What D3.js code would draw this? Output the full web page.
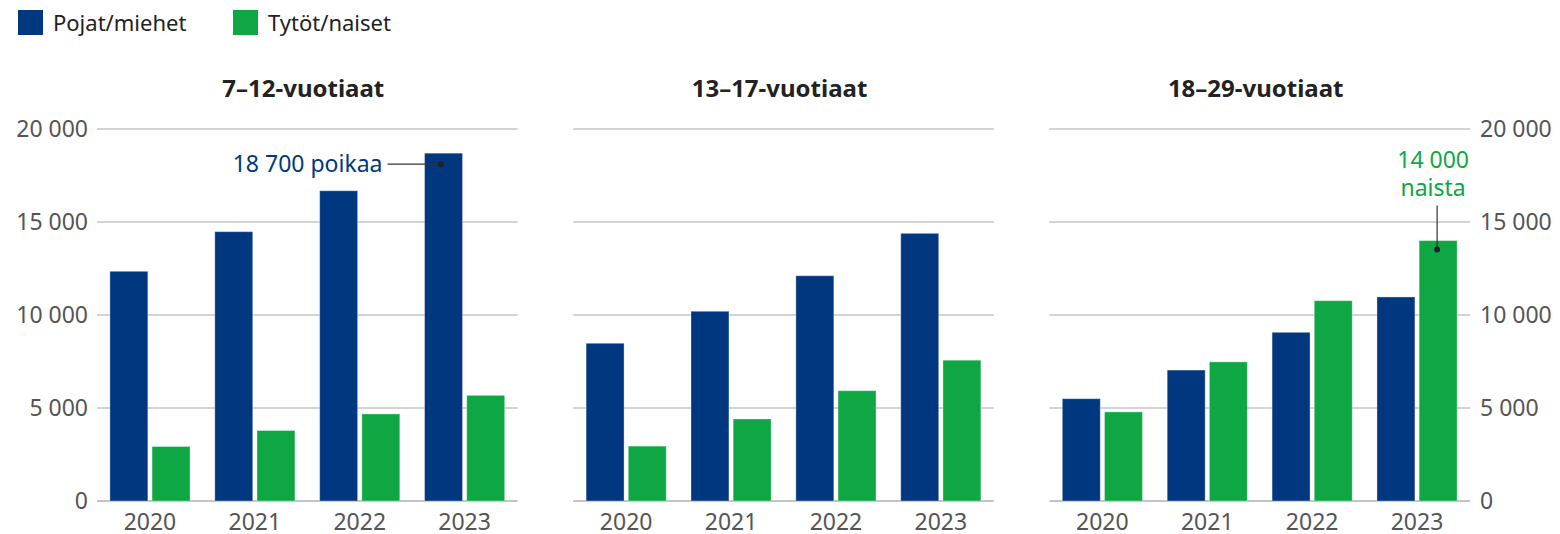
<!DOCTYPE html>
<html><head><meta charset="utf-8">
<script src="https://cdn.jsdelivr.net/npm/d3@7"></script>
<style>
html,body{margin:0;padding:0;background:#fff;}
svg{display:block;font-family:"Noto Sans",sans-serif;}
</style></head>
<body>
<svg id="c" width="1560" height="534"></svg>
<script>
const years = ["2020","2021","2022","2023"];
const groups = ["7–12-vuotiaat","13–17-vuotiaat","18–29-vuotiaat"];
const seriesNames = ["Pojat/miehet","Tytöt/naiset"];
const boys7_12  = [12350, 14480, 16680, 18700];
const girls7_12 = [2930, 3790, 4680, 5680];
const boys13_17  = [8480, 10200, 12110, 14390];
const girls13_17 = [2950, 4410, 5930, 7570];
const boys18_29  = [5500, 7040, 9070, 10970];
const girls18_29 = [4790, 7480, 10770, 14000];
const yTicks = [0, 5000, 10000, 15000, 20000];

const colors = ["#00377f", "#0ea744"];
const panelData = [
  [boys7_12, girls7_12],
  [boys13_17, girls13_17],
  [boys18_29, girls18_29]
];

const svg = d3.select("#c");
const fmtTick = v => v === 0 ? "0" : d3.format(",")(v).replace(/,/g, " ");

const y = d3.scaleLinear().domain([0, 20000]).range([501, 129]);
const panelX = d3.scaleBand().domain(groups).range([97, 1470]).paddingInner(0.1168);

// Legend
const leg = svg.append("g");
const legX = d3.scaleOrdinal().domain(seriesNames).range([18, 233]);
seriesNames.forEach((s, i) => {
  leg.append("rect").attr("x", legX(s)).attr("y", 10).attr("width", 25).attr("height", 25)
    .attr("fill", colors[i]);
  leg.append("text").attr("x", legX(s) + 35).attr("y", 31).attr("font-size", 22)
    .attr("fill", "#222").text(s);
});

groups.forEach((g, gi) => {
  const x0 = panelX(g), x1 = x0 + panelX.bandwidth();
  const xb = d3.scaleBand().domain(years).range([x0, x1]).paddingInner(0.236).paddingOuter(0.123);
  const xs = d3.scaleBand().domain([0, 1]).range([0, xb.bandwidth()]).paddingInner(0.1);
  const p = svg.append("g");

  // gridlines
  p.selectAll("line.grid").data(yTicks).join("line")
    .attr("x1", x0).attr("x2", x1)
    .attr("y1", d => y(d)).attr("y2", d => y(d))
    .attr("stroke", d => d === 0 ? "#b0b0b0" : "#c4c4c4").attr("stroke-width", 1.3);

  // bars
  panelData[gi].forEach((vals, si) => {
    p.selectAll(null).data(vals).join("rect")
      .attr("x", (d, i) => xb(years[i]) + xs(si))
      .attr("width", xs.bandwidth())
      .attr("y", d => y(d))
      .attr("height", d => y(0) - y(d))
      .attr("fill", colors[si])
      .attr("stroke", "rgba(255,255,255,0.35)").attr("stroke-width", 1);
  });

  // x labels
  p.selectAll("text.yr").data(years).join("text")
    .attr("x", d => xb(d) + xb.bandwidth() / 2)
    .attr("y", 530).attr("text-anchor", "middle")
    .attr("font-size", 23).attr("fill", "#555").text(d => d);

  // title
  p.append("text").attr("x", (x0 + x1) / 2 - 4).attr("y", 97).attr("text-anchor", "middle")
    .attr("font-size", 24).attr("font-weight", "bold").attr("fill", "#222").text(g);

  // y axis labels
  if (gi === 0) {
    p.selectAll("text.yl").data(yTicks).join("text")
      .attr("x", 88).attr("y", d => y(d) + 8).attr("text-anchor", "end")
      .attr("font-size", 23).attr("fill", "#555").text(fmtTick);
  }
  if (gi === 2) {
    p.selectAll("text.yr2").data(yTicks).join("text")
      .attr("x", 1480).attr("y", d => y(d) + 8).attr("text-anchor", "start")
      .attr("font-size", 23).attr("fill", "#555").text(fmtTick);
  }

  // annotations
  if (gi === 0) {
    const v = boys7_12[3];
    const cx = xb("2023") + xs(0) + xs.bandwidth() / 2 - 3;
    const cy = y(v) + 11;
    p.append("line").attr("x1", cx - 53).attr("x2", cx).attr("y1", cy).attr("y2", cy)
      .attr("stroke", "#333").attr("stroke-width", 1.2);
    p.append("circle").attr("cx", cx).attr("cy", cy).attr("r", 3).attr("fill", "#222");
    p.append("text").attr("x", cx - 58).attr("y", cy + 8).attr("text-anchor", "end")
      .attr("font-size", 23).attr("fill", colors[0]).text("18 700 poikaa");
  }
  if (gi === 2) {
    const v = girls18_29[3];
    const cx = xb("2023") + xs(1) + xs.bandwidth() / 2 - 1;
    const cy = y(v) + 9;
    p.append("line").attr("x1", cx).attr("x2", cx).attr("y1", cy).attr("y2", cy - 44)
      .attr("stroke", "#333").attr("stroke-width", 1.2);
    p.append("circle").attr("cx", cx).attr("cy", cy).attr("r", 3).attr("fill", "#222");
    const t = p.append("text").attr("text-anchor", "middle").attr("font-size", 23).attr("fill", colors[1]);
    t.append("tspan").attr("x", cx - 4).attr("y", cy - 82).text("14 000");
    t.append("tspan").attr("x", cx - 4).attr("y", cy - 54).text("naista");
  }
});
</script>
</body></html>
